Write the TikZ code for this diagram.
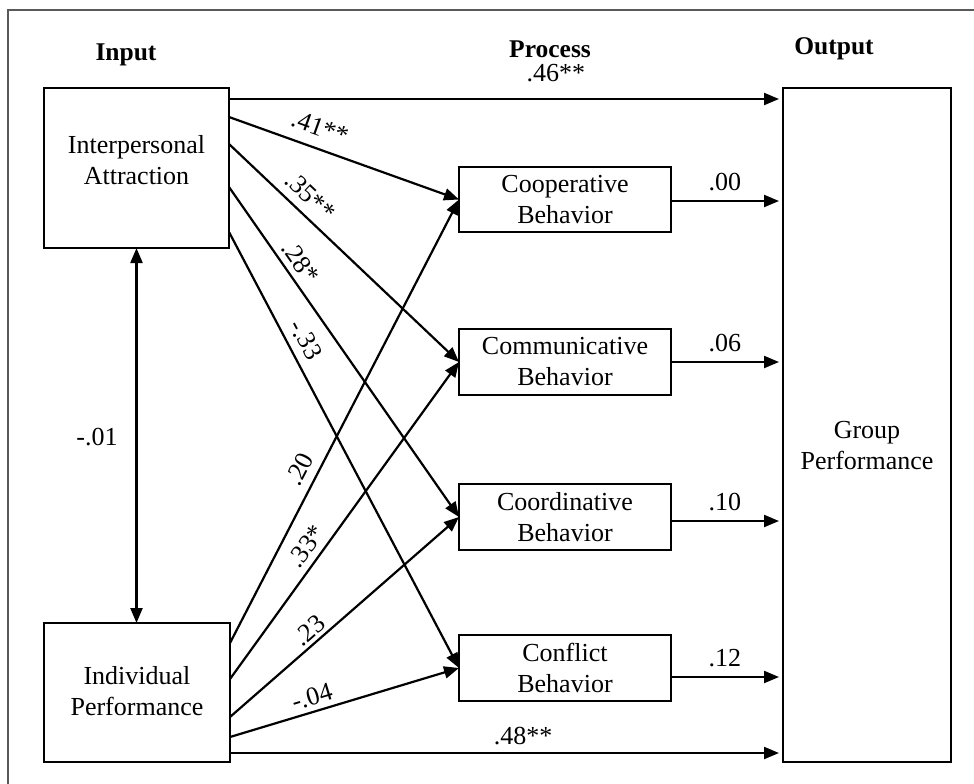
\documentclass[tikz,border=0pt]{standalone}
\usepackage{fontspec}
\setmainfont{Liberation Serif}
\usetikzlibrary{arrows.meta,calc}
\begin{document}
\begin{tikzpicture}[x=1pt,y=-1pt,
  every node/.style={font=\fontsize{26}{31}\selectfont},
  box/.style={draw, line width=1.6pt, rectangle, outer sep=0pt, inner sep=0pt, anchor=north west},
  txt/.style={align=center, inner sep=0pt},
  head/.style={font=\fontsize{25.5}{31}\selectfont\bfseries, anchor=base, inner sep=0pt},
  lab/.style={inner sep=0pt},
  arr/.style={line width=2.2pt, -{Triangle[length=15pt,width=12pt]}},
  darr/.style={line width=2.2pt, {Triangle[length=15pt,width=12pt]}-{Triangle[length=15pt,width=12pt]}}
]
\useasboundingbox (0,0) rectangle (974,784);
\draw[line width=1.2pt, black!65] (8,784) -- (8,10) -- (974,10);

% headers
\node[head] (hin) at (126,61) {Input};
\node[head] (hpr) at (550,57) {Process};
\node[head] (hout) at (834,55) {Output};

% boxes
\node[box, minimum width=185pt, minimum height=160pt] (IA) at (44,88) {};
\node[txt] (IAt) at (136.5,160) {Interpersonal\\Attraction};
\node[box, minimum width=186pt, minimum height=139pt] (IP) at (44,623) {};
\node[txt] (IPt) at (137,691) {Individual\\Performance};

\node[box, minimum width=212pt, minimum height=65pt] (CoopB) at (459,167) {};
\node[txt] at (CoopB.center) {Cooperative\\Behavior};
\node[box, minimum width=212pt, minimum height=66pt] (CommB) at (459,329) {};
\node[txt] at (CommB.center) {Communicative\\Behavior};
\node[box, minimum width=212pt, minimum height=66pt] (CoordB) at (459,484) {};
\node[txt] at (CoordB.center) {Coordinative\\Behavior};
\node[box, minimum width=212pt, minimum height=66pt] (ConfB) at (459,635) {};
\node[txt] at (ConfB.center) {Conflict\\Behavior};

\node[box, minimum width=168pt, minimum height=674pt] (GP) at (783,88) {};
\node[txt] (GPt) at (867,446) {Group\\Performance};

% correlation
\draw[darr] (IA.south) -- (IA.south |- IP.north);
\node[lab, anchor=base] at (97,445) {-.01};

% direct effects to output
\draw[arr, shorten >=4pt] ($(IA.north east)+(0,11)$) -- node[lab, pos=0.59, above=16pt] {.46**} ($(GP.north west)+(0,11)$);
\draw[arr, shorten >=4pt] ($(IP.north east)+(0,130)$) -- node[lab, pos=0.53, above=7pt] {.48**} ($(GP.north west)+(0,665)$);

% process to output
\draw[arr, shorten >=4pt] ([yshift=-1.5pt]CoopB.east) -- node[lab, pos=0.48, above=9pt] {.00} ([yshift=-1.5pt]CoopB.east -| GP.west);
\draw[arr, shorten >=4pt] (CommB.east) -- node[lab, pos=0.48, above=9pt] {.06} (CommB.east -| GP.west);
\draw[arr, shorten >=4pt] ([yshift=-4pt]CoordB.east) -- node[lab, pos=0.48, above=9pt] {.10} ([yshift=-4pt]CoordB.east -| GP.west);
\draw[arr, shorten >=4pt] ([yshift=-9pt]ConfB.east) -- node[lab, pos=0.48, above=9pt] {.12} ([yshift=-9pt]ConfB.east -| GP.west);

% input IA to process
\draw[arr] ($(IA.north east)+(0,29)$) -- node[lab, pos=0.365, sloped, above=11pt] {.41**} (CoopB.west);
\draw[arr] ($(IA.north east)+(0,56)$) -- node[lab, pos=0.30, sloped, above=8pt] {.35**} (CommB.west);
\draw[arr] ($(IA.north east)+(0,99)$) -- node[lab, pos=0.255, sloped, above=6pt] {.28*} (CoordB.west);
\draw[arr] ($(IA.north east)+(0,144)$) -- node[lab, pos=0.266, sloped, above=8pt] {-.33} (ConfB.west);

% input IP to process
\draw[arr] ($(IP.north east)+(0,20)$) -- node[lab, pos=0.373, sloped, above=8pt] {.20} (CoopB.west);
\draw[arr] ($(IP.north east)+(0,56)$) -- node[lab, pos=0.389, sloped, above=6pt] {.33*} (CommB.west);
\draw[arr] ($(IP.north east)+(0,94)$) -- node[lab, pos=0.385, sloped, above=3pt] {.23} (CoordB.west);
\draw[arr] ($(IP.north east)+(0,114)$) -- node[lab, pos=0.376, sloped, above=5pt] {-.04} (ConfB.west);
\end{tikzpicture}
\end{document}
